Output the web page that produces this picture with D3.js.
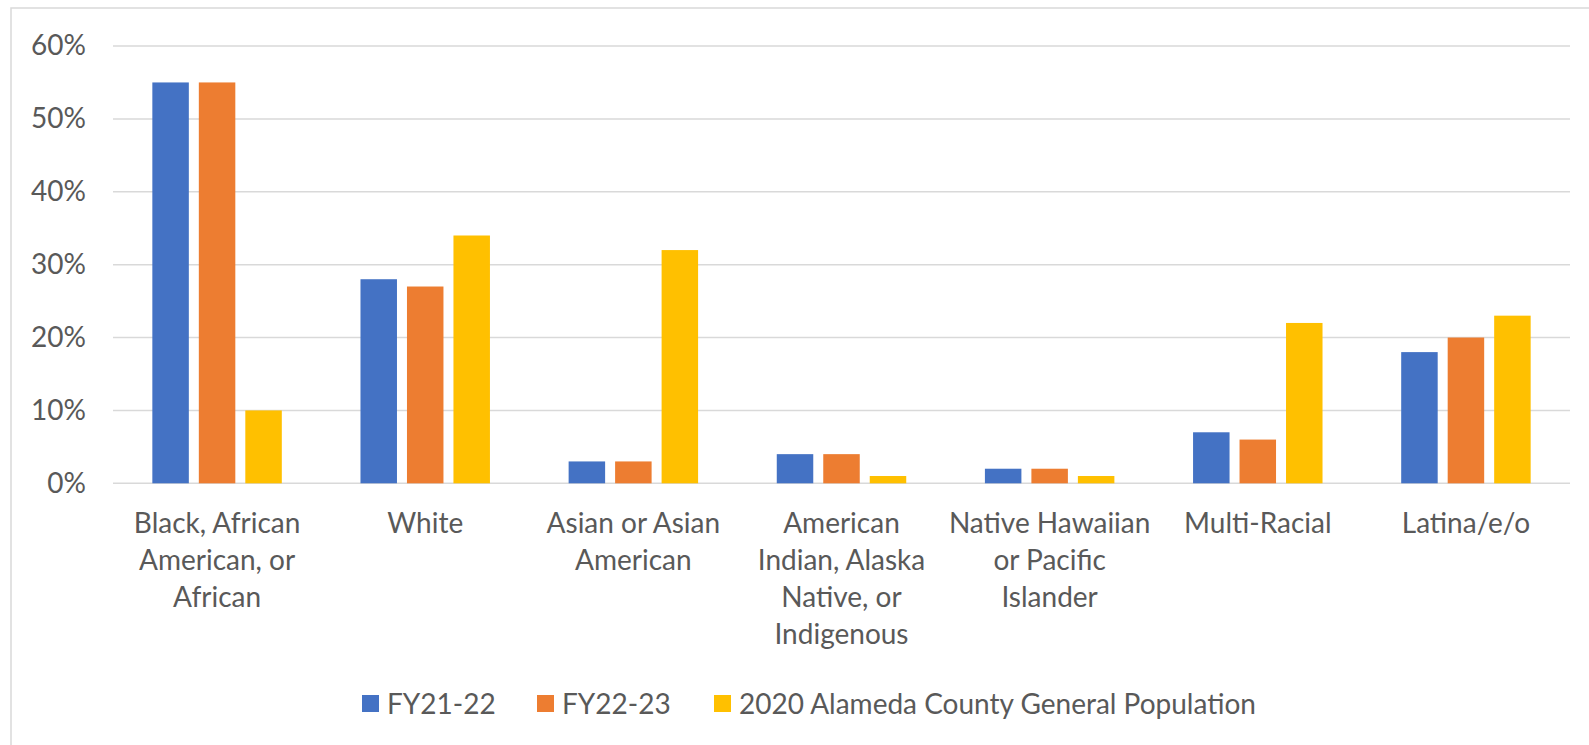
<!DOCTYPE html>
<html>
<head>
<meta charset="utf-8">
<script src="https://cdn.jsdelivr.net/npm/d3@7"></script>
<style>
  html, body { margin: 0; padding: 0; background: #fff; overflow: hidden; }
  svg { display: block; font-family: Lato, "Open Sans", sans-serif; }
</style>
</head>
<body>
<svg id="chart" width="1589" height="745"></svg>
<script>
// category labels, already broken into lines as in the original
const categories = [
  ['Black, African', 'American, or', 'African'],
  ['White'],
  ['Asian or Asian', 'American'],
  ['American', 'Indian, Alaska', 'Native, or', 'Indigenous'],
  ['Native Hawaiian', 'or Pacific', 'Islander'],
  ['Multi-Racial'],
  ['Latina/e/o']
];
const seriesNames = ['FY21-22', 'FY22-23', '2020 Alameda County General Population'];
const fy2122 = [55, 28, 3, 4, 2, 7, 18];
const fy2223 = [55, 27, 3, 4, 2, 6, 20];
const county2020 = [10, 34, 32, 1, 1, 22, 23];
const yTicks = [0, 10, 20, 30, 40, 50, 60];

const colors = ['#4472C4', '#ED7D31', '#FFC000'];
const textColor = '#595959';
const gridColor = '#D9D9D9';
const fontSize = 28;

const svg = d3.select('#chart');
const W = 1589, H = 745;
const plot = { left: 113, right: 1570, top: 46, bottom: 483.3 };

// chart frame (runs off the right and bottom edge, like the screenshot)
svg.append('rect')
  .attr('x', 11).attr('y', 8)
  .attr('width', W).attr('height', H)
  .attr('fill', '#fff')
  .attr('stroke', gridColor)
  .attr('stroke-width', 1.5);

const idx = d3.range(categories.length);
const x0 = d3.scaleBand().domain(idx).range([plot.left, plot.right]).padding(0);
const groupW = x0.bandwidth() * 0.622;
const x1 = d3.scaleBand()
  .domain(d3.range(seriesNames.length))
  .range([(x0.bandwidth() - groupW) / 2, (x0.bandwidth() + groupW) / 2])
  .paddingInner(0.215)
  .paddingOuter(0);
const y = d3.scaleLinear().domain([0, 60]).range([plot.bottom, plot.top]);

// gridlines
svg.append('g')
  .selectAll('line')
  .data(yTicks)
  .join('line')
  .attr('x1', plot.left).attr('x2', plot.right)
  .attr('y1', d => y(d)).attr('y2', d => y(d))
  .attr('stroke', gridColor)
  .attr('stroke-width', 1.5);

// y axis labels
const yAxis = d3.axisLeft(y)
  .tickValues(yTicks)
  .tickFormat(d => d + '%')
  .tickSize(0)
  .tickPadding(27);
const yg = svg.append('g')
  .attr('transform', `translate(${plot.left},0)`)
  .call(yAxis);
yg.select('.domain').remove();
yg.selectAll('text')
  .attr('fill', textColor)
  .style('font-size', fontSize + 'px')
  .style('font-family', 'Lato, sans-serif');

// bars
const allSeries = [fy2122, fy2223, county2020];
const groups = svg.append('g')
  .selectAll('g')
  .data(idx)
  .join('g')
  .attr('transform', i => `translate(${x0(i)},0)`);

groups.selectAll('rect')
  .data(i => allSeries.map((s, k) => ({ k, v: s[i] })))
  .join('rect')
  .attr('x', d => x1(d.k))
  .attr('width', x1.bandwidth())
  .attr('y', d => y(d.v))
  .attr('height', d => y(0) - y(d.v))
  .attr('fill', d => colors[d.k]);

// category labels
const catLabels = svg.append('g')
  .selectAll('text')
  .data(idx)
  .join('text')
  .attr('x', i => x0(i) + x0.bandwidth() / 2)
  .attr('y', 523)
  .attr('text-anchor', 'middle')
  .attr('fill', textColor)
  .style('font-size', fontSize + 'px');

catLabels.selectAll('tspan')
  .data(i => categories[i])
  .join('tspan')
  .attr('x', function() { return this.parentNode.getAttribute('x'); })
  .attr('dy', (d, j) => j === 0 ? '0.35em' : 37)
  .text(d => d);

// legend
const legendX = [362, 537, 714];
const legend = svg.append('g')
  .selectAll('g')
  .data(seriesNames)
  .join('g')
  .attr('transform', (d, k) => `translate(${legendX[k]},704)`);
legend.append('rect')
  .attr('x', 0).attr('y', -9)
  .attr('width', 17).attr('height', 17)
  .attr('fill', (d, k) => colors[k]);
legend.append('text')
  .attr('x', 25).attr('dy', '0.35em')
  .attr('fill', textColor)
  .style('font-size', fontSize + 'px')
  .text(d => d);
</script>
</body>
</html>
